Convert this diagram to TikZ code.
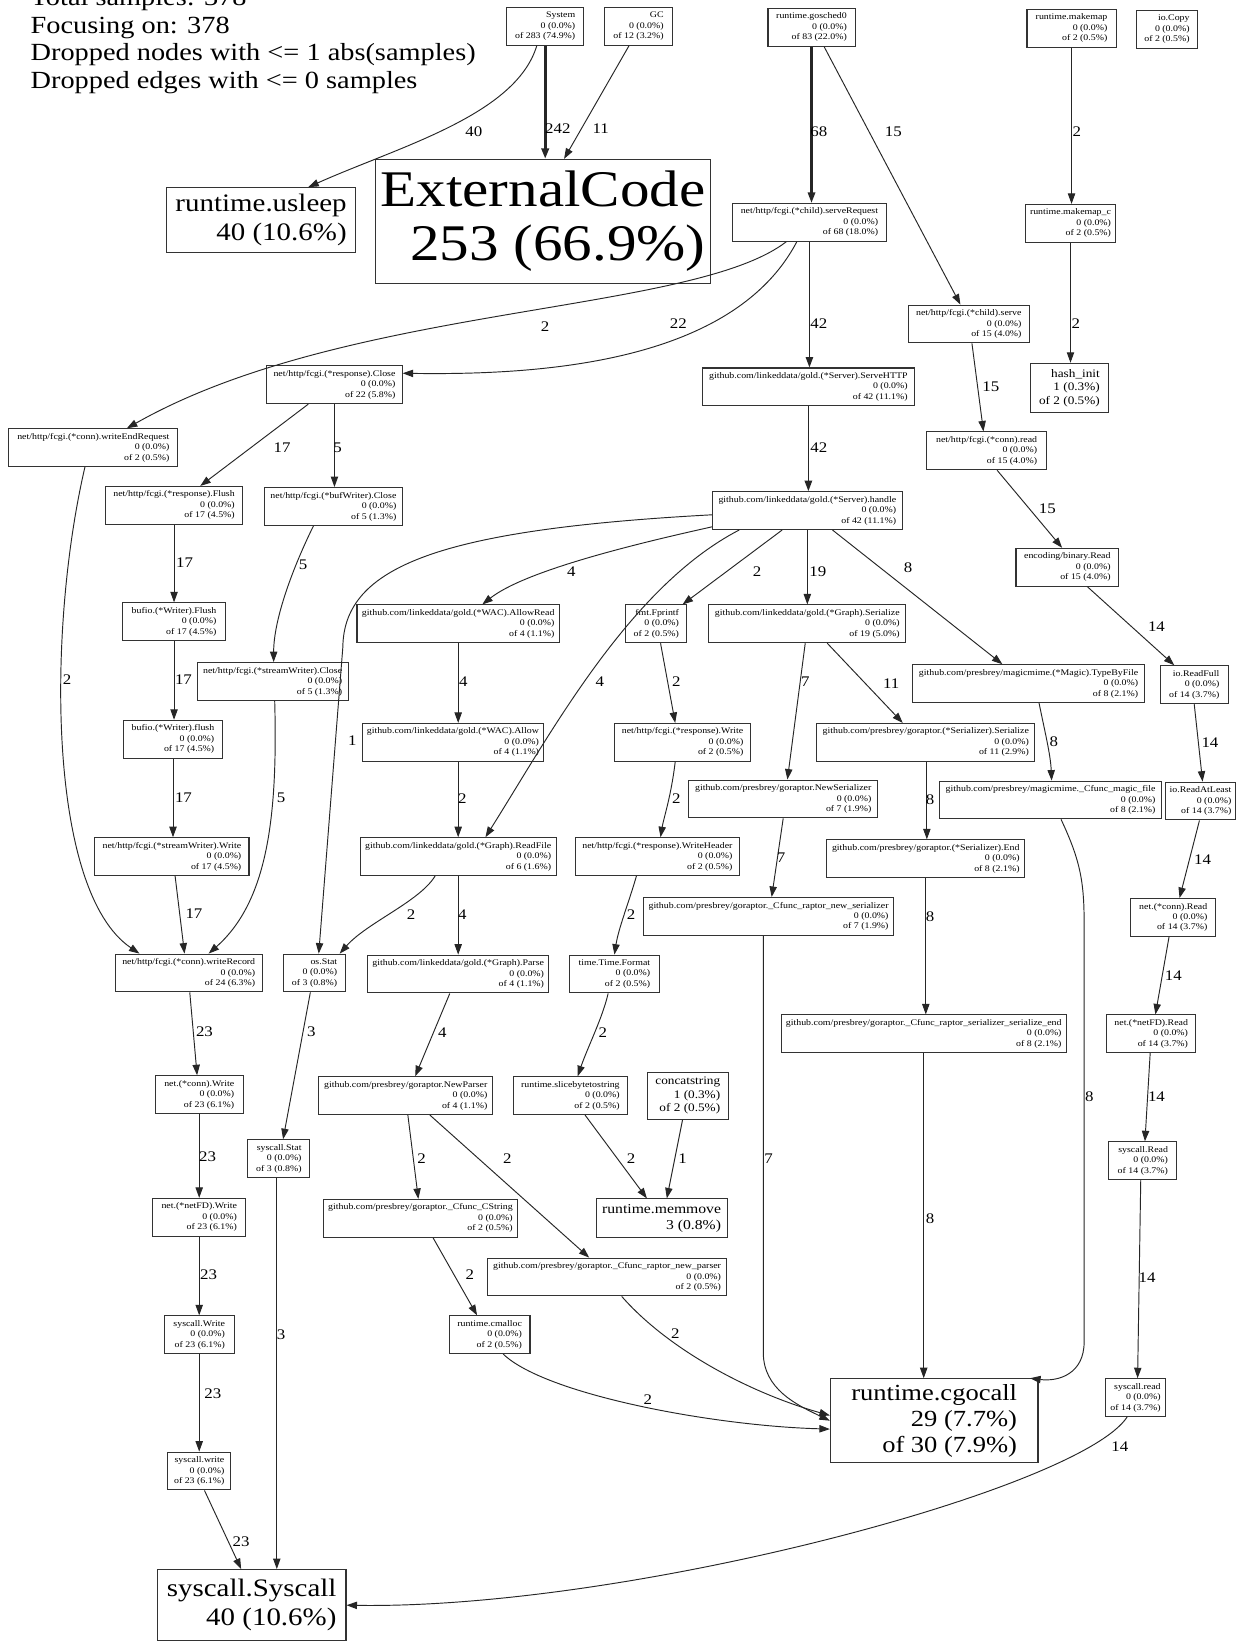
\documentclass[tikz,border=0pt]{standalone}
\usepackage{fontspec}
\setmainfont{Liberation Serif}[FakeStretch=1.15]
\usetikzlibrary{arrows.meta}
\tikzset{
  fn/.style={draw=black!80, line width=1pt, align=right, inner xsep=4pt, inner ysep=2pt,
    minimum height=36pt, font=\fontsize{8.2}{10}\selectfont},
  hot/.style={fn, font=\fontsize{24}{28}\selectfont},
  e/.style={draw=black!85, line width=0.9pt, -{Triangle[length=10pt,width=7pt]}},
  lab/.style={font=\fontsize{14}{14}\selectfont, inner sep=0pt},
  head/.style={anchor=base west, inner sep=0pt, font=\fontsize{23.5}{26}\selectfont}
}
\begin{document}
\begin{tikzpicture}[x=1pt,y=-1pt]
\useasboundingbox (0,0) rectangle (1187,1568);
\fill[white] (0,0) rectangle (1187,1568);

%%%%% legend %%%%%
\node[head] (title1) at (29,5) {Total samples: 378};
\node[head] (title2) at (29,31.5) {Focusing on: 378};
\node[head] (title3) at (29,58) {Dropped nodes with <= 1 abs(samples)};
\node[head] (title4) at (29,84) {Dropped edges with <= 0 samples};

%%%%% nodes %%%%%
\node[fn, minimum width=73pt] (sys) at (520,25) {System\\0 (0.0\%)\\of 283 (74.9\%)};
\node[fn, minimum width=65pt] (gc) at (609,25) {GC\\0 (0.0\%)\\of 12 (3.2\%)};
\node[fn, minimum width=83pt] (gosched) at (774,26) {runtime.gosched0\\0 (0.0\%)\\of 83 (22.0\%)};
\node[fn, minimum width=85pt] (makemap) at (1022,27) {runtime.makemap\\0 (0.0\%)\\of 2 (0.5\%)};
\node[fn, minimum width=59pt] (iocopy) at (1113,28) {io.Copy\\0 (0.0\%)\\of 2 (0.5\%)};

\node[hot, minimum width=180pt, minimum height=62pt] (usleep) at (249,210) {runtime.usleep\\40 (10.6\%)};
\node[fn, font=\fontsize{49}{52}\selectfont, minimum width=320pt, minimum height=118pt] (ext) at (518,211) {ExternalCode\\253 (66.9\%)};
\node[fn, minimum width=147pt] (serveReq) at (772,212) {net/http/fcgi.(*child).serveRequest\\0 (0.0\%)\\of 68 (18.0\%)};
\node[fn, minimum width=62pt] (makemapc) at (1021,213) {runtime.makemap\_c\\0 (0.0\%)\\of 2 (0.5\%)};
\node[fn, minimum width=115pt] (childServe) at (924,309) {net/http/fcgi.(*child).serve\\0 (0.0\%)\\of 15 (4.0\%)};
\node[fn, font=\fontsize{11}{13}\selectfont, minimum width=74pt, minimum height=47pt] (hashinit) at (1020,370) {hash\_init\\1 (0.3\%)\\of 2 (0.5\%)};
\node[fn, minimum width=202pt] (serveHTTP) at (771,369) {github.com/linkeddata/gold.(*Server).ServeHTTP\\0 (0.0\%)\\of 42 (11.1\%)};
\node[fn, minimum width=129pt] (respClose) at (319,367) {net/http/fcgi.(*response).Close\\0 (0.0\%)\\of 22 (5.8\%)};
\node[fn, minimum width=161pt] (writeEnd) at (89,427) {net/http/fcgi.(*conn).writeEndRequest\\0 (0.0\%)\\of 2 (0.5\%)};
\node[fn, minimum width=115pt] (connRead) at (941,430) {net/http/fcgi.(*conn).read\\0 (0.0\%)\\of 15 (4.0\%)};
\node[fn, minimum width=181pt] (handle) at (770,487) {github.com/linkeddata/gold.(*Server).handle\\0 (0.0\%)\\of 42 (11.1\%)};
\node[fn, minimum width=131pt] (respFlush) at (166,482) {net/http/fcgi.(*response).Flush\\0 (0.0\%)\\of 17 (4.5\%)};
\node[fn, minimum width=132pt] (bufClose) at (318,483) {net/http/fcgi.(*bufWriter).Close\\0 (0.0\%)\\of 5 (1.3\%)};
\node[fn, minimum width=98pt] (binRead) at (1018,541) {encoding/binary.Read\\0 (0.0\%)\\of 15 (4.0\%)};
\node[fn, minimum width=98pt] (bufioFlush) at (166,593) {bufio.(*Writer).Flush\\0 (0.0\%)\\of 17 (4.5\%)};
\node[fn, minimum width=193pt] (allowRead) at (437,595) {github.com/linkeddata/gold.(*WAC).AllowRead\\0 (0.0\%)\\of 4 (1.1\%)};
\node[fn, minimum width=58pt] (fprintf) at (626,595) {fmt.Fprintf\\0 (0.0\%)\\of 2 (0.5\%)};
\node[fn, minimum width=188pt] (serialize) at (770,595) {github.com/linkeddata/gold.(*Graph).Serialize\\0 (0.0\%)\\of 19 (5.0\%)};
\node[fn, minimum width=144pt] (swClose) at (260,650) {net/http/fcgi.(*streamWriter).Close\\0 (0.0\%)\\of 5 (1.3\%)};
\node[fn, minimum width=221pt] (typeByFile) at (981,652) {github.com/presbrey/magicmime.(*Magic).TypeByFile\\0 (0.0\%)\\of 8 (2.1\%)};
\node[fn, minimum width=65pt] (readFull) at (1139,653) {io.ReadFull\\0 (0.0\%)\\of 14 (3.7\%)};
\node[fn, minimum width=94pt] (bufioflush) at (165,705) {bufio.(*Writer).flush\\0 (0.0\%)\\of 17 (4.5\%)};
\node[fn, minimum width=166pt] (wacAllow) at (432,708) {github.com/linkeddata/gold.(*WAC).Allow\\0 (0.0\%)\\of 4 (1.1\%)};
\node[fn, minimum width=130pt] (respWrite) at (651,708) {net/http/fcgi.(*response).Write\\0 (0.0\%)\\of 2 (0.5\%)};
\node[fn, minimum width=208pt] (serSerialize) at (883,708) {github.com/presbrey/goraptor.(*Serializer).Serialize\\0 (0.0\%)\\of 11 (2.9\%)};
\node[fn, minimum width=180pt] (newSer) at (747,762) {github.com/presbrey/goraptor.NewSerializer\\0 (0.0\%)\\of 7 (1.9\%)};
\node[fn, minimum width=211pt] (magicFile) at (1002,763) {github.com/presbrey/magicmime.\_Cfunc\_magic\_file\\0 (0.0\%)\\of 8 (2.1\%)};
\node[fn, minimum width=64pt] (readAtLeast) at (1145,764) {io.ReadAtLeast\\0 (0.0\%)\\of 14 (3.7\%)};
\node[fn, minimum width=147pt] (swWrite) at (164,817) {net/http/fcgi.(*streamWriter).Write\\0 (0.0\%)\\of 17 (4.5\%)};
\node[fn, minimum width=187pt] (readFile) at (437,817) {github.com/linkeddata/gold.(*Graph).ReadFile\\0 (0.0\%)\\of 6 (1.6\%)};
\node[fn, minimum width=157pt] (writeHeader) at (627,817) {net/http/fcgi.(*response).WriteHeader\\0 (0.0\%)\\of 2 (0.5\%)};
\node[fn, minimum width=189pt] (serEnd) at (883,819) {github.com/presbrey/goraptor.(*Serializer).End\\0 (0.0\%)\\of 8 (2.1\%)};
\node[fn, minimum width=239pt] (newSerC) at (733,874) {github.com/presbrey/goraptor.\_Cfunc\_raptor\_new\_serializer\\0 (0.0\%)\\of 7 (1.9\%)};
\node[fn, minimum width=81pt] (netConnRead) at (1119,875) {net.(*conn).Read\\0 (0.0\%)\\of 14 (3.7\%)};
\node[fn, minimum width=140pt] (writeRecord) at (180,928) {net/http/fcgi.(*conn).writeRecord\\0 (0.0\%)\\of 24 (6.3\%)};
\node[fn, minimum width=59pt] (osStat) at (300,928) {os.Stat\\0 (0.0\%)\\of 3 (0.8\%)};
\node[fn, minimum width=173pt] (parse) at (437,929) {github.com/linkeddata/gold.(*Graph).Parse\\0 (0.0\%)\\of 4 (1.1\%)};
\node[fn, minimum width=86pt] (timeFormat) at (586,929) {time.Time.Format\\0 (0.0\%)\\of 2 (0.5\%)};
\node[fn, minimum width=272pt] (serEndC) at (881,986) {github.com/presbrey/goraptor.\_Cfunc\_raptor\_serializer\_serialize\_end\\0 (0.0\%)\\of 8 (2.1\%)};
\node[fn, minimum width=85pt] (netFDRead) at (1098,986) {net.(*netFD).Read\\0 (0.0\%)\\of 14 (3.7\%)};
\node[fn, minimum width=84pt] (netConnWrite) at (190,1044) {net.(*conn).Write\\0 (0.0\%)\\of 23 (6.1\%)};
\node[fn, minimum width=166pt] (newParser) at (387,1045) {github.com/presbrey/goraptor.NewParser\\0 (0.0\%)\\of 4 (1.1\%)};
\node[fn, minimum width=109pt] (slice2str) at (544,1045) {runtime.slicebytetostring\\0 (0.0\%)\\of 2 (0.5\%)};
\node[fn, font=\fontsize{11}{13}\selectfont, minimum width=77pt, minimum height=45pt] (concat) at (656,1045) {concatstring\\1 (0.3\%)\\of 2 (0.5\%)};
\node[fn, minimum width=59pt] (sysStat) at (266,1105) {syscall.Stat\\0 (0.0\%)\\of 3 (0.8\%)};
\node[fn, minimum width=65pt] (sysRead) at (1090,1107) {syscall.Read\\0 (0.0\%)\\of 14 (3.7\%)};
\node[fn, minimum width=89pt] (netFDWrite) at (190,1161) {net.(*netFD).Write\\0 (0.0\%)\\of 23 (6.1\%)};
\node[fn, minimum width=185pt] (cstring) at (401,1162) {github.com/presbrey/goraptor.\_Cfunc\_CString\\0 (0.0\%)\\of 2 (0.5\%)};
\node[fn, font=\fontsize{13}{15}\selectfont, minimum width=125pt, minimum height=37pt] (memmove) at (631,1162) {runtime.memmove\\3 (0.8\%)};
\node[fn, minimum width=228pt] (newParserC) at (579,1218) {github.com/presbrey/goraptor.\_Cfunc\_raptor\_new\_parser\\0 (0.0\%)\\of 2 (0.5\%)};
\node[fn, minimum width=67pt] (sysWrite) at (190,1273) {syscall.Write\\0 (0.0\%)\\of 23 (6.1\%)};
\node[fn, minimum width=77pt] (cmalloc) at (467,1273) {runtime.cmalloc\\0 (0.0\%)\\of 2 (0.5\%)};
\node[fn, minimum width=58pt] (sysread) at (1083,1333) {syscall.read\\0 (0.0\%)\\of 14 (3.7\%)};
\node[fn, font=\fontsize{22}{25}\selectfont, minimum width=198pt, minimum height=80pt] (cgocall) at (891,1355) {runtime.cgocall\\29 (7.7\%)\\of 30 (7.9\%)};
\node[fn, minimum width=60pt] (syswrite) at (190,1403) {syscall.write\\0 (0.0\%)\\of 23 (6.1\%)};
\node[hot, minimum width=180pt, minimum height=68pt] (syscall) at (240,1531) {syscall.Syscall\\40 (10.6\%)};

%%%%% edges %%%%%
\draw[e] ([xshift=-8pt]sys.south) .. controls (492,110) and (380,140) .. ([xshift=45pt]usleep.north) node[lab] at (452,126) {40};
\draw[e, line width=3pt] (sys.south) -- (sys.south |- ext.north) node[lab] at (532,123) {242};
\draw[e] ([xshift=-9pt]gc.south) -- ([xshift=20pt]ext.north) node[lab] at (573,123) {11};
\draw[e, line width=2pt] (gosched.south) -- (gosched.south |- serveReq.north) node[lab] at (781,126) {68};
\draw[e] ([xshift=12pt]gosched.south) -- ([xshift=-8pt]childServe.north) node[lab] at (852,126) {15};
\draw[e] (makemap.south) -- (makemap.south |- makemapc.north) node[lab] at (1027,126) {2};
\draw[e] (makemapc.south) -- (makemapc.south |- hashinit.north) node[lab] at (1026,309) {2};

\draw[e] ([xshift=-22pt]serveReq.south) .. controls (660,300) and (330,290) .. ([xshift=32pt]writeEnd.north) node[lab] at (520,312) {2};
\draw[e] ([xshift=-12pt]serveReq.south) .. controls (700,345) and (520,358) .. ([yshift=11pt]respClose.east) node[lab] at (647,309) {22};
\draw[e, line width=1.5pt] (serveReq.south) -- (serveReq.south |- serveHTTP.north) node[lab] at (781,309) {42};
\draw[e] ([xshift=3pt]childServe.south) -- ([xshift=-3pt]connRead.north) node[lab] at (945,369) {15};
\draw[e, line width=1.5pt] (serveHTTP.south) -- (serveHTTP.south |- handle.north) node[lab] at (781,427) {42};
\draw[e] ([xshift=-25pt]respClose.south) -- ([xshift=25pt]respFlush.north) node[lab] at (269,427) {17};
\draw[e] (respClose.south) -- (respClose.south |- bufClose.north) node[lab] at (322,427) {5};
\draw[e] ([xshift=-8pt]writeEnd.south) .. controls (45,600) and (45,850) .. ([xshift=-47pt]writeRecord.north) node[lab] at (64,648) {2};
\draw[e] ([xshift=10pt]connRead.south) -- ([xshift=-5pt]binRead.north) node[lab] at (999,485) {15};
\draw[e] (respFlush.south) -- (respFlush.south |- bufioFlush.north) node[lab] at (176,537) {17};
\draw[e] ([xshift=-19pt]bufClose.south) .. controls (280,540) and (261,590) .. ([xshift=1pt]swClose.north) node[lab] at (289,539) {5};

\draw[e] ([yshift=-4pt]handle.west) .. controls (420,505) and (328,540) .. (327,617) -- ([xshift=4pt]osStat.north) node[lab] at (336,706) {1};
\draw[e] ([yshift=3pt]handle.south west) .. controls (600,520) and (500,545) .. ([xshift=23pt]allowRead.north) node[lab] at (545,545) {4};
\draw[e] ([xshift=-65pt]handle.south) .. controls (600,560) and (525,700) .. ([xshift=26pt]readFile.north) node[lab] at (572,650) {4};
\draw[e] ([xshift=-24pt]handle.south) -- ([xshift=25pt]fprintf.north) node[lab] at (722,545) {2};
\draw[e] (handle.south) -- (handle.south |- serialize.north) node[lab] at (780,545) {19};
\draw[e] ([xshift=24pt]handle.south) -- ([xshift=-25pt]typeByFile.north) node[lab] at (866,541) {8};
\draw[e] ([xshift=19pt]binRead.south) -- ([xshift=-19pt]readFull.north) node[lab] at (1103,598) {14};

\draw[e] (bufioFlush.south) -- (bufioFlush.south |- bufioflush.north) node[lab] at (175,648) {17};
\draw[e] (allowRead.south) -- (allowRead.south |- wacAllow.north) node[lab] at (442,650) {4};
\draw[e] ([xshift=4pt]fprintf.south) -- ([xshift=-7pt]respWrite.north) node[lab] at (645,650) {2};
\draw[e] ([xshift=-2pt]serialize.south) -- ([xshift=4pt]newSer.north) node[lab] at (768,650) {7};
\draw[e] ([xshift=19pt]serialize.south) -- ([xshift=-22pt]serSerialize.north) node[lab] at (850,652) {11};
\draw[e] ([xshift=10pt]typeByFile.south) .. controls (997,700) and (1002,720) .. ([xshift=1pt]magicFile.north) node[lab] at (1005,707) {8};
\draw[e] (readFull.south) -- ([xshift=2pt]readAtLeast.north) node[lab] at (1154,708) {14};

\draw[e] ([xshift=2pt]swClose.south) .. controls (265,780) and (255,860) .. ([xshift=19pt]writeRecord.north) node[lab] at (268,761) {5};
\draw[e] (bufioflush.south) -- ([xshift=1pt]swWrite.north) node[lab] at (175,761) {17};
\draw[e] ([xshift=5pt]wacAllow.south) -- ([xshift=5pt]wacAllow.south |- readFile.north) node[lab] at (441,762) {2};
\draw[e] ([xshift=-7pt]respWrite.south) .. controls (640,760) and (633,780) .. ([xshift=3pt]writeHeader.north) node[lab] at (645,762) {2};
\draw[e] ([xshift=1pt]serSerialize.south) -- ([xshift=1pt]serSerialize.south |- serEnd.north) node[lab] at (887,763) {8};
\draw[e] ([xshift=10pt]magicFile.south) .. controls (1030,820) and (1034,840) .. (1034,880) -- (1034,1280) .. controls (1034,1310) and (1010,1318) .. ([xshift=-8pt]cgocall.north east) node[lab] at (1039,1046) {8};
\draw[e] ([xshift=-1pt]readAtLeast.south) -- ([xshift=6pt]netConnRead.north) node[lab] at (1147,820) {14};

\draw[e] (newSer.south) -- ([xshift=3pt]newSerC.north) node[lab] at (745,818) {7};
\draw[e] ([xshift=3pt]swWrite.south) -- ([xshift=-4pt]writeRecord.north) node[lab] at (185,871) {17};
\draw[e] ([xshift=-22pt]readFile.south) .. controls (400,860) and (350,880) .. ([xshift=24pt]osStat.north) node[lab] at (392,872) {2};
\draw[e] (readFile.south) -- (readFile.south |- parse.north) node[lab] at (441,872) {4};
\draw[e] ([xshift=-20pt]writeHeader.south) .. controls (600,860) and (590,885) .. (timeFormat.north) node[lab] at (602,872) {2};
\draw[e] (serEnd.south) -- (serEnd.south |- serEndC.north) node[lab] at (887,874) {8};
\draw[e] ([xshift=-4pt]netConnRead.south) -- ([xshift=4pt]netFDRead.north) node[lab] at (1119,931) {14};
\draw[e] ([xshift=-5pt]newSerC.south) -- (728,1290) .. controls (728,1325) and (760,1340) .. (cgocall.west) node[lab] at (733,1105) {7};

\draw[e] ([xshift=1pt]writeRecord.south) -- ([xshift=-2pt]netConnWrite.north) node[lab] at (195,984) {23};
\draw[e] ([xshift=-4pt]osStat.south) -- ([xshift=4pt]sysStat.north) node[lab] at (297,984) {3};
\draw[e] ([xshift=-8pt]parse.south) -- ([xshift=9pt]newParser.north) node[lab] at (422,985) {4};
\draw[e] ([xshift=-6pt]timeFormat.south) .. controls (575,970) and (560,1000) .. ([xshift=7pt]slice2str.north) node[lab] at (575,985) {2};
\draw[e] ([xshift=-1pt]netFDRead.south) -- ([xshift=2pt]sysRead.north) node[lab] at (1103,1046) {14};
\draw[e] (netConnWrite.south) -- (netConnWrite.south |- netFDWrite.north) node[lab] at (198,1103) {23};
\draw[e] ([xshift=-2pt]sysStat.south) -- ([xshift=-2pt]sysStat.south |- syscall.north) node[lab] at (268,1273) {3};
\draw[e] ([xshift=2pt]newParser.south) -- ([xshift=-2pt]cstring.north) node[lab] at (402,1105) {2};
\draw[e] ([xshift=23pt]newParser.south) -- ([xshift=-17pt]newParserC.north) node[lab] at (484,1105) {2};
\draw[e] ([xshift=14pt]slice2str.south) -- ([xshift=-14pt]memmove.north) node[lab] at (602,1105) {2};
\draw[e] ([xshift=-5pt]concat.south) -- ([xshift=5pt]memmove.north) node[lab] at (651,1105) {1};
\draw[e] (netFDWrite.south) -- (netFDWrite.south |- sysWrite.north) node[lab] at (199,1216) {23};
\draw[e] ([xshift=12pt]cstring.south) -- ([xshift=-12pt]cmalloc.north) node[lab] at (448,1216) {2};
\draw[e] ([xshift=14pt]newParserC.south) .. controls (640,1290) and (720,1330) .. ([yshift=5pt]cgocall.west) node[lab] at (644,1272) {2};
\draw[e] ([xshift=13pt]cmalloc.south) .. controls (520,1330) and (680,1360) .. ([yshift=-8pt]cgocall.west) node[lab] at (618,1335) {2};
\draw[e] (serEndC.south) -- (serEndC.south |- cgocall.north) node[lab] at (887,1162) {8};
\draw[e] ([xshift=-2pt]sysRead.south) -- ([xshift=2pt]sysread.north) node[lab] at (1094,1219) {14};
\draw[e] (sysWrite.south) -- (sysWrite.south |- syswrite.north) node[lab] at (203,1329) {23};
\draw[e] ([xshift=-8pt]sysread.south) .. controls (1030,1420) and (600,1535) .. (syscall.east) node[lab] at (1068,1380) {14};
\draw[e] ([xshift=5pt]syswrite.south) -- ([xshift=-10pt]syscall.north) node[lab] at (230,1470) {23};
\end{tikzpicture}
\end{document}
